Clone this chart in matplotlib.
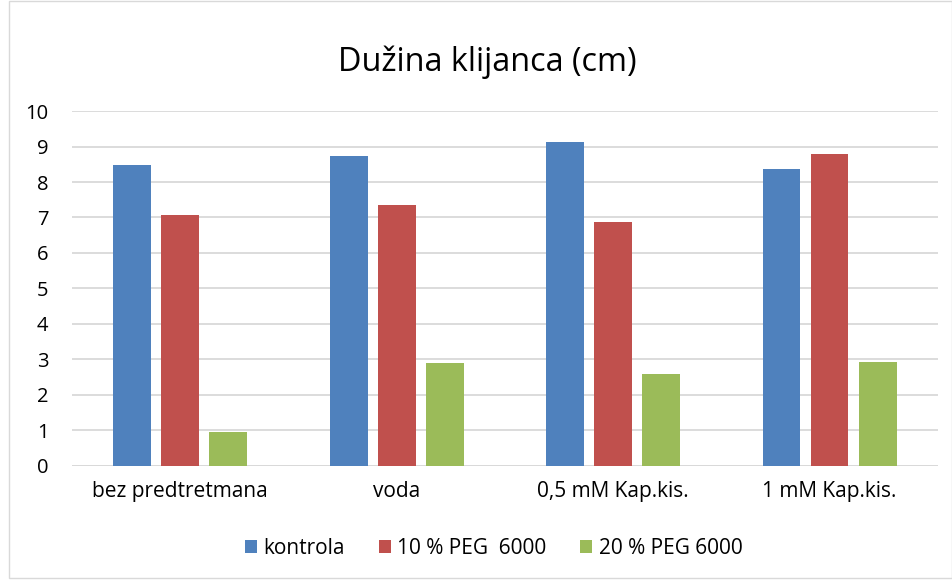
import matplotlib.pyplot as plt
import numpy as np
from matplotlib.patches import Rectangle

plt.rcParams['font.family'] = ['Open Sans', 'DejaVu Sans']

categories = ['bez predtretmana', 'voda', '0,5 mM Kap.kis.', '1 mM Kap.kis.']
series_names = ['kontrola', '10 % PEG  6000', '20 % PEG 6000']
kontrola = [8.49, 8.72, 9.13, 8.36]
peg10 = [7.06, 7.34, 6.86, 8.79]
peg20 = [0.97, 2.90, 2.59, 2.92]
colors = ['#4F81BD', '#C0504D', '#9BBB59']

fig = plt.figure(figsize=(9.53, 5.8), dpi=100)
ax = fig.add_axes([0.0755, 0.1966, 0.9085, 0.612])

x = np.arange(len(categories))
width = 0.175
offset = 0.222
for i, (vals, name) in enumerate(zip([kontrola, peg10, peg20], series_names)):
    ax.bar(x + (i - 1) * offset, vals, width, color=colors[i], label=name, zorder=3)

ax.set_xlim(-0.5, 3.5)
ax.set_ylim(0, 10)
ax.set_yticks(range(0, 11))
ax.set_xticks(x)
ax.set_xticklabels(categories, fontsize=15)
ax.tick_params(axis='y', labelsize=14.5, length=0, pad=17)
ax.tick_params(axis='x', length=0, pad=11)
ax.grid(axis='y', color='#D9D9D9', linewidth=1.3, zorder=0)
for s in ax.spines.values():
    s.set_visible(False)
ax.axhline(0, color='#D9D9D9', linewidth=1.3, zorder=1)

fig.text(0.511, 0.893, 'Dužina klijanca (cm)', ha='center', va='center', fontsize=23.3)

fig.legend(loc='center', bbox_to_anchor=(0.518, 0.054), ncol=3, frameon=False,
           fontsize=15, handlelength=0.6, handleheight=0.6, handletextpad=0.3,
           columnspacing=1.6)

fig.patches.append(Rectangle((0.009, 0.003), 0.99, 0.996, transform=fig.transFigure,
                             fill=False, edgecolor='#D9D9D9', linewidth=1))

fig.savefig('out.png', dpi=100)
